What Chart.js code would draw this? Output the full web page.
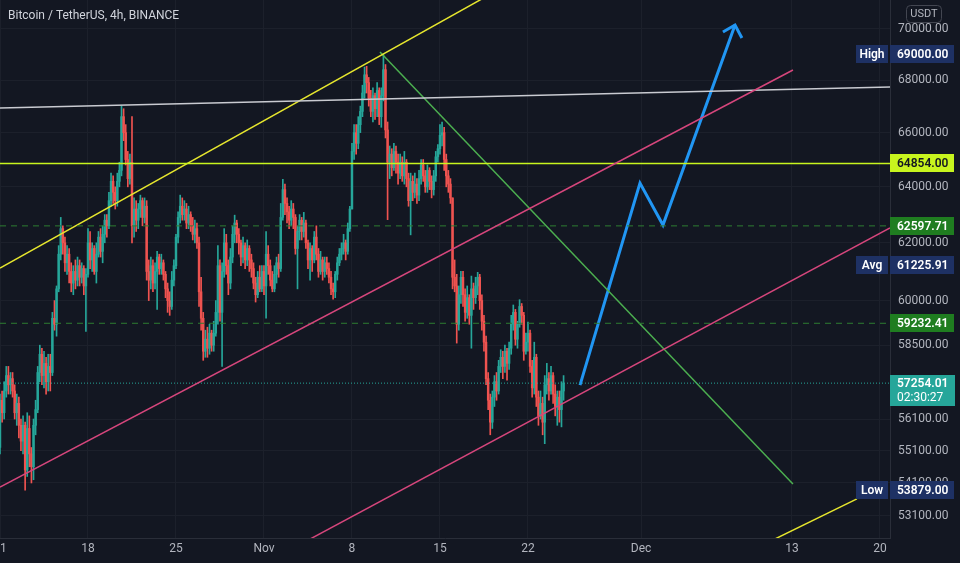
<!DOCTYPE html>
<html>
<head>
<meta charset="utf-8">
<script src="https://cdn.jsdelivr.net/npm/chart.js@4.4.0/dist/chart.umd.min.js"></script>
<style>
  html, body { margin: 0; padding: 0; background: #131722; }
  #wrap { width: 960px; height: 563px; }
</style>
</head>
<body>
<div id="wrap"><canvas id="btc" width="960" height="563"></canvas></div>
<script>
// BTCUSDT 4h candles, Oct 11 -> Nov 24 (prices in thousands of USDT)
const startDay = -21;          // Oct 11, in days from Nov 1
const firstOpen = 55.2;
const closes = [
  56.7,56.3,57.0,57.5,57.2,57.4, 57.0,56.3,56.6,55.9,55.4,55.9, 54.5,55.8,55.0,54.6,55.9,56.4,
  57.6,58.2,57.5,57.9,57.3,57.8, 57.6,59.4,59.2,60.4,61.6,62.5, 62.0,61.3,61.6,61.0,60.6,61.0,
  60.7,61.2,60.8,61.1,60.5,60.9, 62.0,61.4,61.8,61.0,61.6,62.2, 61.7,62.3,62.8,62.6,63.5,64.2,
  63.8,63.5,64.2,64.6,66.6,66.0, 65.0,64.3,64.9,62.6,63.2,62.8, 63.2,63.5,62.9,63.3,61.0,60.7,
  61.2,60.6,61.0,61.5,61.1,61.3, 60.9,60.4,60.0,59.8,60.7,61.2, 62.2,62.9,63.3,63.0,63.2,62.7,
  63.0,62.6,62.3,62.5,62.0,60.3, 59.4,58.3,58.7,58.4,58.9,58.5, 58.9,59.6,61.2,59.6,61.0,62.0,
  61.2,60.6,61.5,62.3,62.7,62.3, 62.0,61.5,61.9,61.4,61.8,61.4, 61.1,60.6,60.2,60.8,60.4,61.0,
  60.5,61.6,61.2,60.7,60.4,60.9, 61.3,61.1,62.9,63.9,63.4,63.1, 62.8,63.2,62.9,61.8,62.4,62.8,
  62.4,62.7,62.0,61.4,61.8,61.4, 62.2,61.6,61.0,61.4,61.0,61.3, 61.1,60.8,60.4,60.3,60.9,61.3,
  61.6,61.8,62.0,61.7,62.5,63.2, 65.3,66.0,65.6,66.3,66.8,67.5, 68.2,67.9,67.3,66.8,67.4,66.9,
  67.6,66.6,67.4,68.4,66.1,64.9, 65.2,64.7,65.3,64.9,64.5,64.9, 64.4,64.9,64.3,63.5,64.2,63.8,
  64.1,63.7,64.3,64.8,64.4,64.0, 64.6,64.2,63.9,64.4,65.1,65.4, 65.9,66.0,65.0,64.4,64.1,63.6,
  60.8,60.5,59.2,60.2,60.8,60.2, 59.6,60.1,59.5,60.4,60.1,60.5, 60.8,60.0,59.3,58.6,57.4,56.7,
  56.0,56.8,57.3,57.0,57.8,58.1, 57.8,58.3,57.9,58.4,59.2,59.6, 58.7,59.2,59.8,59.5,58.3,58.6,
  58.9,57.8,57.1,58.1,56.8,56.2, 56.6,56.0,57.2,57.4,57.0,57.5, 56.9,56.5,56.8,56.4,57.0,57.254
];
const highs = [
  56.9,57.0,57.3,57.8,57.8,57.6, 57.6,57.2,56.9,56.8,56.1,56.2, 56.0,56.3,56.2,55.2,56.1,56.7,
  57.8,58.5,58.4,58.3,58.1,58.2, 58.2,59.6,60.0,60.5,61.9,62.9, 62.6,62.2,61.9,61.8,61.3,61.2,
  61.4,61.5,61.4,61.3,61.2,61.1, 62.5,62.4,62.0,61.9,62.0,62.4, 62.5,62.6,63.0,63.0,63.8,64.5,
  64.4,64.0,64.5,64.9,67.0,66.9, 66.3,65.3,65.2,66.6,63.6,63.5, 63.4,63.7,63.6,63.6,63.5,61.4,
  61.5,61.4,61.3,61.7,61.6,61.6, 61.4,61.0,60.6,60.3,61.0,61.4, 62.3,63.1,63.7,63.6,63.5,63.4,
  63.3,63.1,62.9,62.8,62.7,62.2, 60.8,59.6,59.0,59.1,59.2,59.0, 59.3,60.0,61.9,61.4,61.3,62.5,
  62.3,61.4,61.8,62.6,62.98,62.8, 62.5,62.1,62.2,62.0,62.1,61.9, 61.6,61.3,60.8,61.0,61.2,61.2,
  61.2,62.4,61.9,61.4,61.0,61.2, 61.5,61.6,63.4,64.27,64.1,63.6, 63.3,63.5,63.4,63.0,62.6,63.0,
  62.9,63.08,62.8,62.1,62.0,61.9, 62.4,62.6,61.8,61.7,61.5,61.5, 61.5,61.3,61.0,60.6,61.0,61.5,
  61.8,62.0,62.3,62.1,62.7,63.3, 65.6,66.3,66.3,66.6,67.0,67.8, 68.5,68.53,68.1,67.6,67.7,67.5,
  67.9,67.7,67.7,69.0,68.6,66.4, 65.5,65.4,65.6,65.5,65.2,65.2, 65.1,65.3,65.0,64.5,64.5,64.4,
  64.5,64.3,64.6,65.0,65.0,64.6, 64.8,64.7,64.4,64.6,65.3,65.55, 66.3,66.4,66.2,65.2,64.6,64.3,
  63.6,61.4,60.9,60.5,61.0,61.0, 60.4,60.5,60.2,60.84,60.6,60.8, 60.97,60.9,60.2,59.5,58.8,57.6,
  56.9,57.0,57.5,57.6,58.0,58.35, 58.3,58.5,58.4,58.6,59.5,59.85, 59.7,59.3,60.03,59.9,59.6,58.9,
  59.27,59.0,58.0,58.6,58.2,57.0, 57.0,56.8,57.5,57.9,57.6,57.8, 57.6,57.2,57.0,57.0,57.3,57.5
];
const lows = [
  55.0,56.0,56.1,56.8,56.9,56.9, 56.8,56.1,55.9,55.5,55.1,55.0, 53.879,54.3,54.6,54.1,54.2,55.6,
  56.3,57.3,57.2,57.1,56.9,57.0, 57.0,57.5,59.0,58.8,60.3,61.4, 61.6,61.0,60.9,60.6,60.3,60.2,
  60.4,60.5,60.5,60.6,60.2,58.96, 60.8,61.1,61.0,60.9,60.6,61.5, 61.5,61.3,62.0,62.2,62.5,63.3,
  63.4,63.2,63.3,64.0,64.4,65.7, 64.8,64.0,64.1,62.0,62.2,62.4, 62.5,62.9,62.6,62.7,60.7,60.0,
  60.4,60.3,60.4,59.7,60.9,60.9, 60.7,60.1,59.6,59.5,59.7,60.5, 61.1,62.0,62.7,62.8,62.8,62.5,
  62.5,62.4,62.1,62.0,61.8,59.8, 59.0,58.0,58.1,58.1,58.2,58.3, 58.3,58.8,59.2,59.3,57.8,60.8,
  60.9,60.2,60.4,61.3,62.0,62.0, 61.6,61.2,61.3,61.1,61.2,61.0, 60.8,60.4,59.95,60.1,60.3,60.3,
  60.2,59.4,60.9,60.5,60.3,60.3, 60.6,60.8,61.0,62.8,63.0,62.7, 62.5,62.6,62.5,61.6,60.4,62.1,
  62.1,62.2,61.8,61.1,60.7,61.0, 61.3,61.4,60.8,60.9,60.7,60.8, 60.9,60.6,60.2,60.05,60.1,60.7,
  61.2,61.4,61.6,61.4,61.6,62.4, 63.3,65.0,65.2,65.4,66.0,66.6, 67.3,67.5,67.0,66.6,66.4,66.5,
  66.6,66.3,66.2,67.2,65.8,62.82, 64.3,64.4,64.6,64.5,64.1,64.3, 64.2,64.1,64.0,63.3,62.28,63.5,
  63.6,63.4,63.5,64.1,64.2,63.8, 63.8,63.9,63.6,63.7,64.2,64.9, 65.2,65.5,64.6,64.0,63.8,63.4,
  60.4,60.3,58.57,59.0,59.9,59.8, 59.3,59.4,59.2,58.4,59.7,59.9, 60.2,59.7,59.0,58.3,57.2,56.4,
  55.6,55.8,56.5,56.7,56.9,57.6, 57.4,57.6,57.35,57.7,58.2,59.0, 58.5,58.4,59.1,59.2,58.0,58.2,
  58.3,57.6,56.8,56.9,56.5,55.9, 56.1,55.6,55.32,56.9,56.7,56.9, 56.6,56.2,55.9,56.0,55.85,56.7
];

// axis ticks
const xTickDays = [-21, -14, -7, 0, 7, 14, 21, 30, 42, 49];
const xTickLabels = ['11', '18', '25', 'Nov', '8', '15', '22', 'Dec', '13', '20'];
const yTickValues = [53100, 54100, 55100, 56100, 58500, 60000, 62000, 64000, 66000, 68000, 70000];

// drawings: [day from Nov 1, price]
const yellowTrend = [[-21, 61118], [20, 71962]];
const yellowLower = [[40.65, 52408], [47.17, 53613]];
const whiteLine = [[-21, 66928], [49.8, 67730]];
const greenDiag = [[9.23, 69089], [42.08, 54067]];
const pinkMid = [[-21, 53973], [42.08, 68387]];
const pinkLow = [[2.86, 52244], [49.8, 62522]];
const blueArrow = [[25.14, 57191], [29.91, 64138], [31.74, 62629], [37.47, 70156]];
const blueHead = [[36.51, 69878], [37.47, 70156], [38.02, 69641]];
const levelLime = 64854.00;
const levelUpperDash = 62597.71;
const levelLowerDash = 59232.41;
const lastPrice = 57254.01;
const highPrice = 69000.00;
const lowPrice = 53879.00;
const avgPrice = 61225.91;

const UP = '#26a69a', DOWN = '#ef5350';
const xMin = -21, xMax = 49.8;

const opens = closes.map((c, i) => i === 0 ? firstOpen : closes[i - 1]);
const times = closes.map((c, i) => startDay + i / 6);
const candleColor = closes.map((c, i) => c >= opens[i] ? UP : DOWN);

const bodyData = closes.map((c, i) => ({ x: times[i], y: [opens[i] * 1000, c * 1000] }));
const wickData = closes.map((c, i) => ({
  x: times[i],
  y: [Math.min(lows[i], opens[i], c) * 1000, Math.max(highs[i], opens[i], c) * 1000]
}));

const pts = arr => arr.map(p => ({ x: p[0], y: p[1] }));
const hLine = v => [{ x: xMin, y: v }, { x: xMax, y: v }];

function lineSet(data, color, width, dash) {
  return {
    type: 'line', data, borderColor: color, borderWidth: width,
    borderDash: dash || [], pointRadius: 0, fill: false, tension: 0, order: 1
  };
}

// price tags on the right axis + title
const overlay = {
  id: 'overlay',
  afterDraw(chart) {
    const c = chart.ctx, y = chart.scales.y;
    const ax = chart.chartArea.right;
    c.save();
    c.textBaseline = 'middle';
    c.font = '12px Roboto, "DejaVu Sans", sans-serif';
    c.fillStyle = '#d1d4dc';
    c.textAlign = 'left';
    c.fillText('Bitcoin / TetherUS, 4h, BINANCE', 8, 16);

    // USDT badge
    c.strokeStyle = '#434651';
    c.lineWidth = 1;
    c.beginPath();
    c.roundRect(906.5, 5.5, 35, 17, 4);
    c.stroke();
    c.fillStyle = '#b2b5be';
    c.font = '11px Roboto, sans-serif';
    c.textAlign = 'center';
    c.fillText('USDT', 924, 14.5);

    const tags = [
      { v: highPrice, t: highPrice.toFixed(2), bg: '#1e3164', fg: '#ffffff', tag: 'High' },
      { v: levelLime, t: levelLime.toFixed(2), bg: '#c8f51e', fg: '#131722' },
      { v: levelUpperDash, t: levelUpperDash.toFixed(2), bg: '#1f7d20', fg: '#ffffff' },
      { v: avgPrice, t: avgPrice.toFixed(2), bg: '#1e3164', fg: '#ffffff', tag: 'Avg' },
      { v: levelLowerDash, t: levelLowerDash.toFixed(2), bg: '#1f7d20', fg: '#ffffff' },
      { v: lowPrice, t: lowPrice.toFixed(2), bg: '#1e3164', fg: '#ffffff', tag: 'Low' }
    ];
    c.font = '600 12px Roboto, sans-serif';
    tags.forEach(g => {
      const py = Math.round(y.getPixelForValue(g.v));
      c.fillStyle = g.bg;
      c.fillRect(ax, py - 9, 64, 18);
      c.fillStyle = g.fg;
      c.textAlign = 'left';
      c.fillText(g.t, ax + 7, py + 1);
      if (g.tag) {
        c.fillStyle = g.bg;
        c.fillRect(ax - 34, py - 9, 32, 18);
        c.fillStyle = '#ffffff';
        c.textAlign = 'center';
        c.fillText(g.tag, ax - 18, py + 1);
      }
    });
    // last price + countdown
    const ly = Math.round(y.getPixelForValue(lastPrice));
    c.fillStyle = UP;
    c.fillRect(ax, ly - 8, 65, 31);
    c.fillStyle = '#ffffff';
    c.textAlign = 'left';
    c.fillText(lastPrice.toFixed(2), ax + 7, ly + 1);
    c.font = '12px Roboto, sans-serif';
    c.fillText('02:30:27', ax + 7, ly + 15);
    c.restore();
  }
};

const ctx = document.getElementById('btc').getContext('2d');
new Chart(ctx, {
  type: 'bar',
  data: {
    datasets: [
      { type: 'bar', data: wickData, backgroundColor: candleColor, barThickness: 1, grouped: false, order: 10 },
      { type: 'bar', data: bodyData, backgroundColor: candleColor, barThickness: 1.8, minBarLength: 1, grouped: false, order: 9 },
      lineSet(pts(pinkMid), '#d6467c', 1.5),
      lineSet(pts(pinkLow), '#d6467c', 1.5),
      lineSet(pts(whiteLine), '#c9cbd1', 1.5),
      lineSet(hLine(levelLime), '#c8f51e', 1.5),
      lineSet(hLine(levelUpperDash), '#2e7d32', 1, [6, 5]),
      lineSet(hLine(levelLowerDash), '#2e7d32', 1, [6, 5]),
      lineSet(hLine(lastPrice), UP, 1, [1, 2]),
      lineSet(pts(yellowTrend), '#e6e62e', 1.5),
      lineSet(pts(yellowLower), '#e6e62e', 1.5),
      lineSet(pts(greenDiag), '#4caf50', 1.5),
      lineSet(pts(blueArrow), '#2196f3', 3),
      lineSet(pts(blueHead), '#2196f3', 3)
    ]
  },
  options: {
    responsive: false,
    animation: false,
    devicePixelRatio: 1,
    layout: { padding: 0 },
    plugins: { legend: { display: false }, tooltip: { enabled: false } },
    scales: {
      x: {
        type: 'linear', min: xMin, max: xMax, offset: false,
        grid: { color: '#1c202b', drawTicks: false, offset: false },
        border: { color: '#2a2e39' },
        afterBuildTicks: s => { s.ticks = xTickDays.map(v => ({ value: v })); },
        afterFit: s => { s.height = 25; s.paddingLeft = 0; s.paddingRight = 0; },
        ticks: {
          color: '#b2b5be', padding: 4, maxRotation: 0, autoSkip: false,
          font: { size: 12, family: 'Roboto, sans-serif' },
          callback: v => xTickLabels[xTickDays.indexOf(v)]
        }
      },
      y: {
        type: 'logarithmic', position: 'right', min: 52437, max: 71159,
        grid: { color: '#1c202b', drawTicks: false },
        border: { color: '#2a2e39' },
        afterBuildTicks: s => { s.ticks = yTickValues.map(v => ({ value: v })); },
        afterFit: s => { s.width = 70; s.paddingTop = 0; s.paddingBottom = 0; },
        ticks: {
          color: '#b2b5be', padding: 8,
          font: { size: 12, family: 'Roboto, sans-serif' },
          callback: v => Number(v).toFixed(2)
        }
      }
    }
  },
  plugins: [overlay]
});
</script>
</body>
</html>
